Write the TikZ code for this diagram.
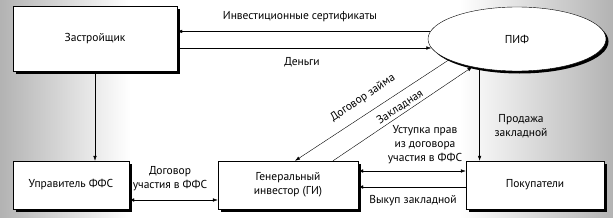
\documentclass[tikz,border=0pt]{standalone}
\usepackage{fontspec}
\setmainfont{PT Sans}
\usetikzlibrary{positioning,shapes.geometric,shadows,arrows.meta}

\begin{document}
\begin{tikzpicture}[x=1pt, y=-1pt, >={Latex[length=5pt,width=3.5pt]},
  every node/.style={font=\fontsize{11.5}{14}\selectfont},
  box/.style={rectangle, draw, fill=white, inner sep=0pt,
    drop shadow={shadow xshift=2.5pt, shadow yshift=-2.5pt, fill=black, opacity=1}},
  lab/.style={align=center, inner sep=1pt}]

% Background
\useasboundingbox (0,0) rectangle (613,217);
\fill[white] (0,0) rectangle (613,217);
\shade[left color=gray!60, right color=white] (0,0) rectangle (130,217);
\shade[left color=white, right color=gray!60] (460,0) rectangle (613,217);

% Participants
\node[box, minimum width=164pt, minimum height=65pt] at (95,38.5) (zastr) {Застройщик};
\node[ellipse, draw, fill=white, inner sep=0pt, minimum width=178pt, minimum height=64pt,
  drop shadow={shadow xshift=2.5pt, shadow yshift=-2.5pt, fill=black, opacity=1}] at (517,39) (pif) {ПИФ};
\node[box, minimum width=116pt, minimum height=48pt] at (71,185) (upr) {Управитель ФФС};
\node[box, minimum width=140pt, minimum height=48pt, align=center] at (288,185) (gi) {Генеральный\\инвестор (ГИ)};
\node[box, minimum width=138pt, minimum height=48pt] at (535,185) (pok) {Покупатели};

% Flows
\draw[<-] (zastr.east |- pif.175) -- (pif.175);
\draw[->] (zastr.east |- pif.186) -- (pif.186);
\draw[->] (zastr.south) -- (zastr.south |- upr.north);
\draw[->] (pif.218) -- (pif.218 |- pok.north);
\draw[->] (pif.197) -- ([xshift=7pt]gi.north);
\draw[->] ([xshift=45pt]gi.north) -- (pif.212);
\draw[<->] ([yshift=-15pt]upr.east) -- ([yshift=-15pt]gi.west);
\draw[<->] ([yshift=14pt]gi.east) -- ([yshift=14pt]pok.west);
\draw[<-] ([yshift=-2pt]gi.east) -- ([yshift=-2pt]pok.west);

% Labels
\node[lab, inner sep=0pt] at (363,98) (lloan) [rotate=34] {Договор займа};
\node[lab, inner sep=0pt] at (400,107) (lmort) [rotate=34] {Закладная};
\node[lab] at (300,17) (lcert) {Инвестиционные сертификаты};
\node[lab] at (302,62) (lmoney) {Деньги};
\node[lab] at (425,145) (lcess) {Уступка прав\\из договора\\участия в ФФС};
\node[lab] at (521,126) (lsale) {Продажа\\закладной};
\node[lab] at (413,201) (lbuy) {Выкуп закладной};
\node[lab] at (170,179) (lcontr) {Договор\\участия в ФФС};
\end{tikzpicture}
\end{document}
